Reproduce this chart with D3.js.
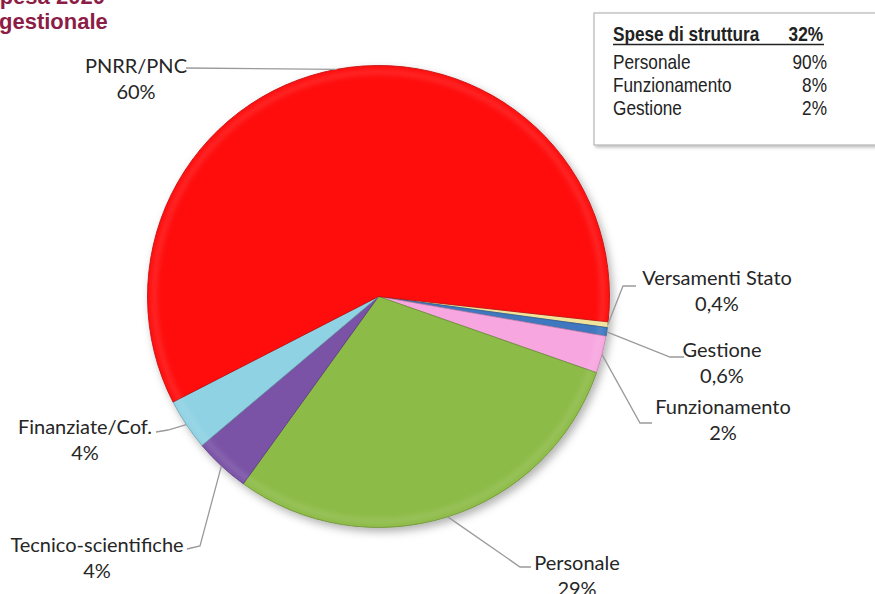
<!DOCTYPE html>
<html>
<head>
<meta charset="utf-8">
<script src="https://cdn.jsdelivr.net/npm/d3@7"></script>
<style>
  body { margin: 0; background: #fff; }
  svg { display: block; }
  .lbl { font-family: Lato, "Open Sans", sans-serif; font-size: 20px; fill: #262626; }
  .leg { font-family: "Liberation Sans", Arial, sans-serif; font-size: 21px; fill: #222; }
</style>
</head>
<body>
<div id="vis"></div>
<script>
// chart frame
const FRAME_WIDTH = 875;
const FRAME_HEIGHT = 594;

// slices, clockwise starting just below 3 o'clock
const categories = ["Versamenti Stato", "Gestione", "Funzionamento", "Personale",
                    "Tecnico-scientifiche", "Finanziate/Cof.", "PNRR/PNC"];
const shares = [0.4, 0.6, 2.6, 29.6, 3.9, 3.6, 59.3];
const shareLabels = ["0,4%", "0,6%", "2%", "29%", "4%", "4%", "60%"];
const colors = ["#f2e39a", "#3f78c0", "#f7a6df", "#8dbb46", "#7a52a6", "#8fd2e4", "#ff0a0a"];

// box on the top right
const boxTitle = "Spese di struttura";
const boxTitleValue = "32%";
const boxItems = ["Personale", "Funzionamento", "Gestione"];
const boxValues = ["90%", "8%", "2%"];

// pie geometry
const CX = 378.5, CY = 296.5, R = 231;
const START = 96.3 * Math.PI / 180;

// where each label sits and how its leader line bends
const LAYOUT = [
  {pts: [[623, 286], [636, 286]], tx: 717, ty: 278},
  {pts: [[670, 357], [684, 357]], tx: 722, ty: 350},
  {pts: [[640, 423], [652, 423]], tx: 723, ty: 407},
  {pts: [[520, 567], [531, 567]], tx: 577, ty: 563},
  {pts: [[200, 546], [187, 549]], tx: 97, ty: 545},
  {pts: [[168, 430], [156, 432]], tx: 85, ty: 427},
  {pts: [[186, 68]], tx: 136, ty: 66}
];

// narrow font is missing, so squeeze the box text
const NARROW = 0.82;

const svg = d3.select("#vis")
  .append("svg")
    .attr("width", FRAME_WIDTH)
    .attr("height", FRAME_HEIGHT);

const defs = svg.append("defs");
const shadow = defs.append("filter")
    .attr("id", "shadow")
    .attr("x", "-10%").attr("y", "-10%")
    .attr("width", "130%").attr("height", "130%");
shadow.append("feDropShadow")
    .attr("dx", 3).attr("dy", 4)
    .attr("stdDeviation", 4)
    .attr("flood-color", "#000")
    .attr("flood-opacity", 0.3);

const boxShadow = defs.append("filter")
    .attr("id", "boxshadow")
    .attr("x", "-5%").attr("y", "-5%")
    .attr("width", "115%").attr("height", "120%");
boxShadow.append("feDropShadow")
    .attr("dx", 2).attr("dy", 2)
    .attr("stdDeviation", 1.5)
    .attr("flood-color", "#000")
    .attr("flood-opacity", 0.25);

const soft = defs.append("filter").attr("id", "soft");
soft.append("feGaussianBlur").attr("stdDeviation", 2.5);

// title, cut by the top-left corner
const title = svg.append("g")
    .attr("font-family", "'Liberation Sans', Arial, sans-serif")
    .attr("font-weight", "bold")
    .attr("font-size", "22px")
    .attr("fill", "#8c1d46");
title.append("text").attr("x", -15).attr("y", 4).text("Spesa 2020");
title.append("text").attr("x", -1).attr("y", 29).text("gestionale");

// pie
const pie = d3.pie()
    .sort(null)
    .value((d) => d)
    .startAngle(START)
    .endAngle(START + 2 * Math.PI);

const arcs = pie(shares);

const arc = d3.arc()
    .innerRadius(0)
    .outerRadius(R);

const pieG = svg.append("g")
    .attr("transform", "translate(" + CX + "," + CY + ")");

pieG.append("g")
    .attr("filter", "url(#shadow)")
  .selectAll("path")
    .data(arcs)
    .enter()
    .append("path")
      .attr("d", arc)
      .attr("fill", (d, i) => colors[i])
      .attr("stroke", (d, i) => d3.color(colors[i]).darker(0.8))
      .attr("stroke-width", 0.8);

// soft bevel: blurred light rim inside each slice
const rim = d3.arc()
    .innerRadius(R - 9)
    .outerRadius(R - 4);
pieG.append("g")
    .attr("filter", "url(#soft)")
  .selectAll("path")
    .data(arcs)
    .enter()
    .append("path")
      .attr("d", rim)
      .attr("fill", "#fff")
      .attr("fill-opacity", 0.12);

// leader lines
const line = d3.line();
svg.append("g")
  .selectAll("path")
    .data(arcs)
    .enter()
    .append("path")
      .attr("d", (d, i) => {
        const a = (d.startAngle + d.endAngle) / 2;
        const p0 = [CX + R * Math.sin(a), CY - R * Math.cos(a)];
        return line([p0].concat(LAYOUT[i].pts));
      })
      .attr("fill", "none")
      .attr("stroke", "#9a9a9a")
      .attr("stroke-width", 1.3);

// labels
const labels = svg.append("g");
categories.forEach((c, i) => {
  const t = labels.append("text")
      .attr("class", "lbl")
      .attr("text-anchor", "middle")
      .attr("x", LAYOUT[i].tx)
      .attr("y", LAYOUT[i].ty)
      .attr("dy", "0.35em");
  t.append("tspan").attr("x", LAYOUT[i].tx).text(c);
  t.append("tspan").attr("x", LAYOUT[i].tx).attr("dy", 26).text(shareLabels[i]);
});

// structure box
const box = svg.append("g");
box.append("rect")
    .attr("x", 594).attr("y", 13)
    .attr("width", 300).attr("height", 132)
    .attr("fill", "#fff")
    .attr("stroke", "#b5b5b5")
    .attr("stroke-width", 1.2)
    .attr("filter", "url(#boxshadow)");

const boxText = box.append("g")
    .attr("transform", "scale(" + NARROW + ",1)");

boxText.append("text")
    .attr("class", "leg")
    .attr("x", 613 / NARROW).attr("y", 41)
    .attr("font-weight", "bold")
    .text(boxTitle);
boxText.append("text")
    .attr("class", "leg")
    .attr("x", 823 / NARROW).attr("y", 41)
    .attr("text-anchor", "end")
    .attr("font-weight", "bold")
    .text(boxTitleValue);
box.append("line")
    .attr("x1", 613).attr("x2", 824)
    .attr("y1", 44.5).attr("y2", 44.5)
    .attr("stroke", "#222")
    .attr("stroke-width", 1.6);

const ROW_Y = d3.scalePoint()
    .domain(boxItems)
    .range([69, 115]);

boxText.selectAll(".item")
  .data(boxItems)
  .enter()
  .append("text")
    .attr("class", "leg item")
    .attr("x", 613 / NARROW)
    .attr("y", (d) => ROW_Y(d))
    .text((d) => d);

boxText.selectAll(".val")
  .data(boxItems)
  .enter()
  .append("text")
    .attr("class", "leg val")
    .attr("x", 827 / NARROW)
    .attr("y", (d) => ROW_Y(d))
    .attr("text-anchor", "end")
    .text((d, i) => boxValues[i]);
</script>
</body>
</html>
